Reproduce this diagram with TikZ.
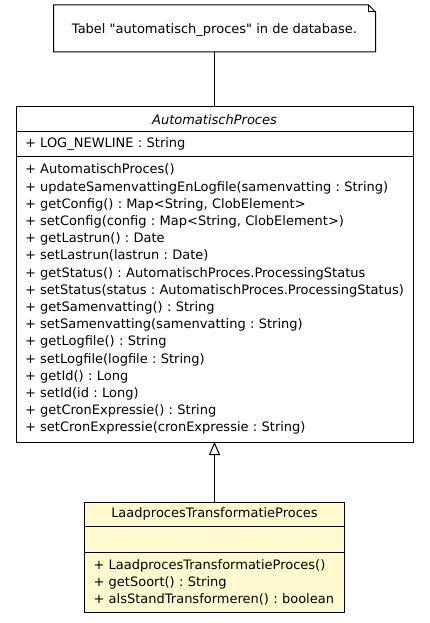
\documentclass[tikz,border=0pt]{standalone}
\usepackage{fontspec}
\setmainfont{DejaVu Sans}[Ligatures=TeXOff]
\usepackage{xcolor}
\definecolor{line-900}{RGB}{0,0,0}
\definecolor{class-fill}{RGB}{255,250,205}
\usepackage{tikz}
\usetikzlibrary{positioning,arrows.meta}
\frenchspacing

\begin{document}
\begin{tikzpicture}[
    x=1pt, y=1pt,
    every node/.style={inner sep=0pt, outer sep=0pt, font=\fontsize{13}{17.2}\selectfont},
    compartment/.style={draw=line-900, line width=1pt, inner xsep=9pt, align=left},
    ap/.style={compartment, fill=white, text width=379pt, minimum width=397pt},
    lp/.style={compartment, fill=class-fill, text width=242pt, minimum width=260pt}
]

% Page margins
\useasboundingbox (0,0) rectangle (429,-623);

% Note
\node[minimum width=322pt, minimum height=47pt, anchor=north] (note) at (214.5,-5) {};
\draw[line-900, line width=1pt, fill=white] (note.north west) -- ([xshift=-7pt]note.north east) -- ([yshift=-7pt]note.north east) -- (note.south east) -- (note.south west) -- cycle;
\draw[line-900, line width=1pt] ([xshift=-7pt]note.north east) |- ([yshift=-7pt]note.north east);
\node (noteText) at ([yshift=-1.5pt]note.center) {Tabel "automatisch\_proces" in de database.};

% Class AutomatischProces
\node[ap, align=center, minimum height=24.7pt, anchor=north] (apTitle) at (214.5,-107) {\itshape AutomatischProces};
\node[ap, minimum height=25pt, below=0pt of apTitle] (apAttrs) {+ LOG\_NEWLINE : String};
\node[ap, minimum height=285.3pt, below=0pt of apAttrs] (apMethods) {%
\mbox{+ AutomatischProces()}\\
\mbox{+ updateSamenvattingEnLogfile(samenvatting : String)}\\
\mbox{+ getConfig() : Map<String, ClobElement>}\\
\mbox{+ setConfig(config : Map<String, ClobElement>)}\\
\mbox{+ getLastrun() : Date}\\
\mbox{+ setLastrun(lastrun : Date)}\\
\mbox{+ getStatus() : AutomatischProces.ProcessingStatus}\\
\mbox{+ setStatus(status : AutomatischProces.ProcessingStatus)}\\
\mbox{+ getSamenvatting() : String}\\
\mbox{+ setSamenvatting(samenvatting : String)}\\
\mbox{+ getLogfile() : String}\\
\mbox{+ setLogfile(logfile : String)}\\
\mbox{+ getId() : Long}\\
\mbox{+ setId(id : Long)}\\
\mbox{+ getCronExpressie() : String}\\
\mbox{+ setCronExpressie(cronExpressie : String)}};

% Class LaadprocesTransformatieProces
\node[lp, align=center, minimum height=24.7pt, anchor=north] (lpTitle) at (214.5,-502) {LaadprocesTransformatieProces};
\node[lp, minimum height=25.3pt, below=0pt of lpTitle] (lpAttrs) {};
\node[lp, minimum height=60.7pt, below=0pt of lpAttrs] (lpMethods) {%
\mbox{+ LaadprocesTransformatieProces()}\\
\mbox{+ getSoort() : String}\\
\mbox{+ alsStandTransformeren() : boolean}};

% Connectors
\draw[line-900, line width=1pt] (note.south) -- (apTitle.north);
\draw[line-900, line width=1pt, -{Triangle[open, length=13pt, width=11pt]}] (lpTitle.north) -- (apMethods.south);

\end{tikzpicture}
\end{document}
